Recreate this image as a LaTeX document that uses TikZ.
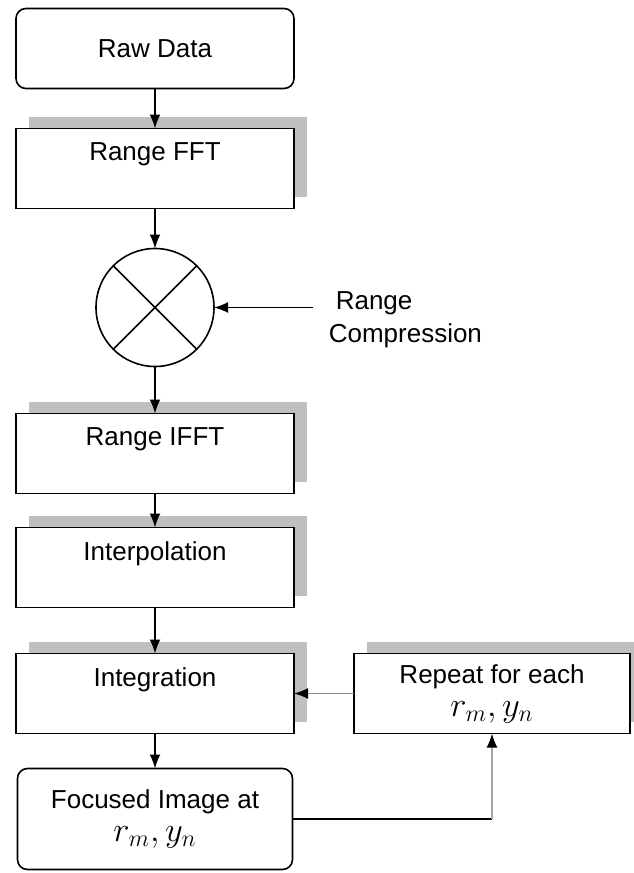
\documentclass[tikz,border=0pt]{standalone}
\usepackage{amsmath}
\usepackage{fontspec}
\setmainfont{Liberation Sans}
\usetikzlibrary{arrows,arrows.meta,shapes,positioning,shadows}

\begin{document}
\begin{tikzpicture}[->,>={Latex[length=7pt,width=5.5pt]},x=0.5pt,y=-0.5pt,line width=0.8pt,node distance=20pt,
	font=\fontsize{13}{16.5}\selectfont,
	blk/.style={draw,rectangle,fill=white,outer sep=0pt,minimum width=139pt,minimum height=40pt,align=center,
		drop shadow={shadow xshift=6.5pt,shadow yshift=6pt,fill=black!25,opacity=1}},
	term/.style={draw,rectangle,rounded corners=5pt,outer sep=0pt,minimum width=139pt,minimum height=40pt,align=center}]
	\useasboundingbox (0,0) rectangle (633,873);
			 \node[term]		(A) at (155,48.5) {Raw Data};
			 \node[blk]		(B) [below=of A] {Range FFT\\~};
			 \node[draw,circle,outer sep=0pt,minimum size=59pt,inner sep=0pt,
			 	path picture={\draw[-] (path picture bounding box.north west) -- (path picture bounding box.south east)
			 		(path picture bounding box.south west) -- (path picture bounding box.north east);}]
			 				(C) [below=of B] {};
			 \node[align=left,inner xsep=7.5pt,inner ysep=0pt]
			 				(I) [right=49.5pt of C,yshift=-6pt] {\hspace{3.5pt}Range\\Compression};
			 \node[blk]		(D) [below=23.5pt of C] {Range IFFT\\~};
			 \node[blk]		(E) [below=17pt of D] {Interpolation\\~};
			 \node[blk]		(F) [below=23pt of E] {Integration\\~};
			 \node[term,minimum width=137.5pt,minimum height=50.5pt]
			 				(G) [below=17.5pt of F] {Focused Image at\\{\fontsize{17.28}{16.5}\selectfont$r_m, y_n$}};
			 \node[blk,minimum width=138pt]
			 				(H) [right=30pt of F] {Repeat for each\\{\fontsize{17.28}{16.5}\selectfont$r_m, y_n$}};
			 \coordinate	(K) at (H.south |- G.east);
			 \path
			 (A) edge (B)
			 (B) edge (C)
			 (C) edge (D)
			 (D) edge (E)
			 (E) edge (F)
			 (F) edge (G)
			 (I.west |- C) edge (C.east);
			 \draw[black!45,-{Latex[length=7pt,width=5.5pt,color=black]}] (H) -- (F);
			 \draw[-] (G.east) -- (K);
			 \draw[black!35,-{Latex[length=7pt,width=5.5pt,color=black]}] (K) -- (H.south);
\end{tikzpicture}
\end{document}
